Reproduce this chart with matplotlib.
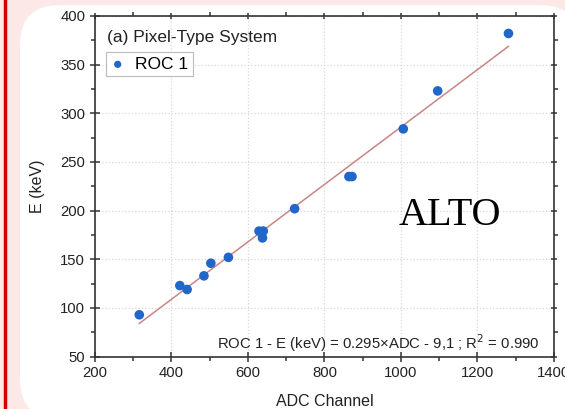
import numpy as np
import matplotlib.pyplot as plt
from matplotlib.patches import FancyBboxPatch
from matplotlib.lines import Line2D
from matplotlib.transforms import IdentityTransform

plt.rcParams['font.family'] = ['Liberation Sans', 'DejaVu Sans']

# ADC channel vs. calibrated energy for ROC 1
adc = [316, 422, 441, 485, 503, 549, 629, 640, 638, 722, 864, 872, 1006, 1096, 1281]
energy = [93, 123, 119, 133, 146, 152, 179, 179, 172, 202, 235, 235, 284, 323, 382]

slope = 0.295
intercept = -9.1
r2 = 0.990

x_ticks = [200, 400, 600, 800, 1000, 1200, 1400]
y_ticks = [50, 100, 150, 200, 250, 300, 350, 400]

fig = plt.figure(figsize=(5.65, 4.09), dpi=100, facecolor='#fde8e8')

# slide panel behind the plot
panel = FancyBboxPatch((20, -10), 560, 414, boxstyle='round,pad=0,rounding_size=40',
                       transform=IdentityTransform(), facecolor='white',
                       edgecolor='none', zorder=-5)
fig.patches.append(panel)
fig.lines.append(Line2D([5, 5], [0, 409], transform=IdentityTransform(),
                        color='#d10000', lw=2.5, zorder=-4))

ax = fig.add_axes([0.168, 0.128, 0.8125, 0.833])
ax.set_facecolor('none')

xs = np.array([min(adc), max(adc)])
ax.plot(xs, slope * xs + intercept, color='#c98585', lw=1.1, zorder=2)
ax.scatter(adc, energy, s=48, color='#2166c9', edgecolors='none', zorder=3,
           label='ROC 1')

ax.set_xlim(200, 1400)
ax.set_ylim(50, 400)
ax.set_xticks(x_ticks)
ax.set_yticks(y_ticks)
ax.set_xticks(np.arange(300, 1400, 200), minor=True)
ax.set_yticks(np.arange(75, 400, 50), minor=True)
ax.grid(True, which='major', color='#d8d8d8', ls=':', lw=0.9)

for side in ax.spines.values():
    side.set_color('#333333')
    side.set_linewidth(1.2)

ax.tick_params(which='major', direction='inout', length=7, width=1.1,
               colors='#333333', labelsize=10.7, labelcolor='#222222',
               top=True, right=True)
ax.tick_params(which='minor', direction='out', length=3, width=1.1,
               colors='#333333', top=True, right=True)
for t in ax.xaxis.get_ticklines(minor=False)[1::2]:
    t.set_markersize(4)
for t in ax.yaxis.get_ticklines(minor=False)[1::2]:
    t.set_markersize(4)

ax.set_xlabel('ADC Channel', fontsize=11.5, color='#222222', labelpad=10)
ax.set_ylabel('E (keV)', fontsize=11.5, color='#222222', labelpad=11)

ax.text(0.026, 0.938, '(a) Pixel-Type System', transform=ax.transAxes,
        fontsize=12.5, color='#222222', va='center', ha='left')

leg = ax.legend(loc='upper left', bbox_to_anchor=(0.025, 0.893), fontsize=12.5,
                fancybox=False, edgecolor='#bbbbbb', framealpha=1,
                handlelength=0.8, handletextpad=0.6, borderpad=0.25,
                borderaxespad=0, markerscale=0.75)
leg.get_frame().set_linewidth(0.8)

ax.text(0.969, 0.04,
        'ROC 1 - E (keV) = %.3f×ADC - 9,1 ; R$^2$ = %.3f' % (slope, r2),
        transform=ax.transAxes, fontsize=10.7, color='#222222',
        ha='right', va='center')

fig.text(399, 184, 'ALTO', transform=IdentityTransform(),
         family='Liberation Serif', fontsize=29, color='black',
         ha='left', va='baseline')

fig.savefig('out.png', dpi=100, facecolor=fig.get_facecolor())
